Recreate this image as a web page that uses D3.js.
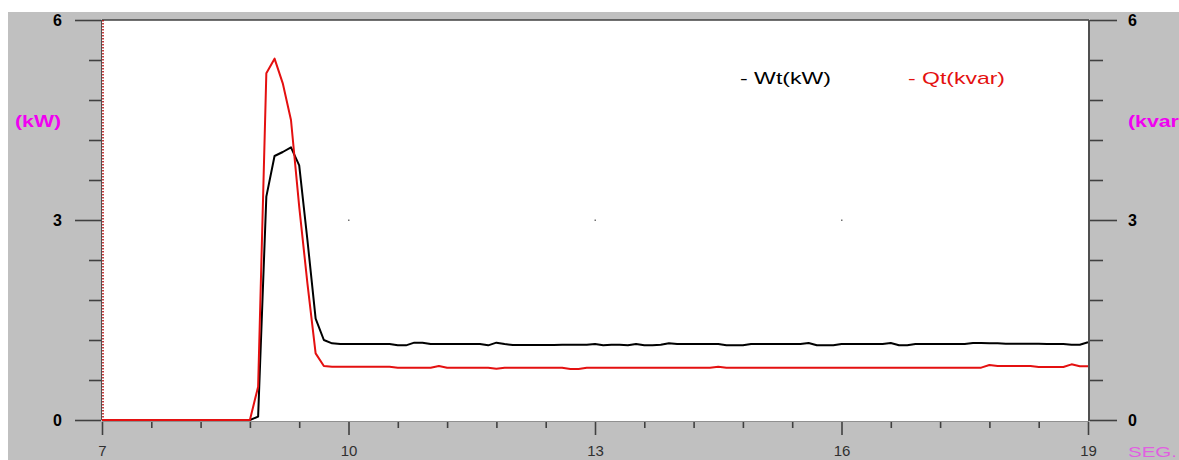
<!DOCTYPE html>
<html>
<head>
<meta charset="utf-8">
<script src="https://cdn.jsdelivr.net/npm/d3@7"></script>
<style>
  html, body { margin: 0; padding: 0; background: #ffffff; }
  svg { display: block; }
</style>
</head>
<body>
<svg id="chart" width="1179" height="460"></svg>
<script>
// ---- data ----
const tStart = 7;
const tStep = 0.1;
const wt = [
  0,0,0,0,0,0,0,0,0,0,
  0,0,0,0,0,0,0,0,0,0.05,
  3.35,3.96,4.02,4.09,3.82,2.70,1.52,1.20,1.15,1.14,
  1.14,1.14,1.14,1.14,1.14,1.14,1.12,1.12,1.16,1.16,
  1.14,1.14,1.14,1.14,1.14,1.14,1.14,1.12,1.16,1.14,
  1.125,1.125,1.125,1.125,1.125,1.125,1.13,1.13,1.13,1.13,
  1.14,1.12,1.13,1.13,1.12,1.14,1.12,1.12,1.13,1.15,
  1.14,1.14,1.14,1.14,1.14,1.14,1.12,1.12,1.12,1.14,
  1.14,1.14,1.14,1.14,1.14,1.14,1.155,1.12,1.12,1.12,
  1.14,1.14,1.14,1.14,1.14,1.14,1.155,1.12,1.12,1.14,
  1.14,1.14,1.14,1.14,1.14,1.14,1.155,1.155,1.15,1.15,
  1.145,1.145,1.145,1.145,1.145,1.14,1.14,1.14,1.13,1.13,
  1.165
];
const qt = [
  0,0,0,0,0,0,0,0,0,0,
  0,0,0,0,0,0,0,0,0,0.5,
  5.2,5.42,5.05,4.5,3.2,2.05,1.0,0.81,0.80,0.80,
  0.80,0.80,0.80,0.80,0.80,0.80,0.785,0.785,0.785,0.785,
  0.785,0.81,0.785,0.785,0.785,0.785,0.785,0.785,0.77,0.785,
  0.785,0.785,0.785,0.785,0.785,0.785,0.785,0.765,0.765,0.785,
  0.785,0.785,0.785,0.785,0.785,0.785,0.785,0.785,0.785,0.785,
  0.785,0.785,0.785,0.785,0.785,0.80,0.785,0.785,0.785,0.785,
  0.785,0.785,0.785,0.785,0.785,0.785,0.785,0.785,0.785,0.785,
  0.785,0.785,0.785,0.785,0.785,0.785,0.785,0.785,0.785,0.785,
  0.785,0.785,0.785,0.785,0.785,0.785,0.785,0.785,0.825,0.81,
  0.81,0.81,0.81,0.81,0.795,0.795,0.795,0.795,0.835,0.805,
  0.805
];
const xMajorTicks = [7, 10, 13, 16, 19];
const xMinorStep = 0.6;
const yMajorTicks = [0, 3, 6];
const yMinorStep = 0.6;
const seriesNames = ["Wt(kW)", "Qt(kvar)"];
const leftUnit = "(kW)";
const rightUnit = "(kvar)";
const xUnit = "SEG.";

// ---- layout ----
const W = 1179, H = 460;
const plot = { left: 102, right: 1088, top: 20, bottom: 420 };
const svg = d3.select("#chart");
const FONT = "'Liberation Sans', Arial, sans-serif";

const x = d3.scaleLinear().domain([7, 19]).range([plot.left, plot.right]);
const y = d3.scaleLinear().domain([0, 6]).range([plot.bottom, plot.top]);

// gray panel background
svg.append("rect").attr("x", 8).attr("y", 12).attr("width", W - 8).attr("height", H - 12).attr("fill", "#c0c0c0");
// white plot area
svg.append("rect").attr("x", plot.left).attr("y", plot.top)
  .attr("width", plot.right - plot.left).attr("height", plot.bottom - plot.top + 1).attr("fill", "#ffffff");

const xMinor = d3.range(7, 19.0001, xMinorStep).filter(v => !xMajorTicks.some(m => Math.abs(m - v) < 1e-6));
const yMinor = d3.range(0, 6.0001, yMinorStep).filter(v => !yMajorTicks.some(m => Math.abs(m - v) < 1e-6));

function styleAxis(g, opts) {
  g.select(".domain").remove();
  g.selectAll(".tick line").attr("stroke", "#404040").attr("stroke-width", 1.6);
  g.selectAll(".tick text").attr("font-family", FONT).attr("font-size", opts.size)
    .attr("font-weight", opts.weight).attr("fill", opts.color);
}

// left axis
svg.append("g").attr("transform", `translate(${plot.left - 1},0)`)
  .call(d3.axisLeft(y).tickValues(yMajorTicks).tickSize(26).tickPadding(13).tickFormat(d3.format("d")))
  .call(g => styleAxis(g, { size: 16, weight: "bold", color: "#000" }));
svg.append("g").attr("transform", `translate(${plot.left - 1},0)`)
  .call(d3.axisLeft(y).tickValues(yMinor).tickSize(12).tickFormat(""))
  .call(g => styleAxis(g, { size: 16, weight: "bold", color: "#000" }));

// right axis
svg.append("g").attr("transform", `translate(${plot.right + 2},0)`)
  .call(d3.axisRight(y).tickValues(yMajorTicks).tickSize(27).tickPadding(11).tickFormat(d3.format("d")))
  .call(g => styleAxis(g, { size: 16, weight: "bold", color: "#000" }));
svg.append("g").attr("transform", `translate(${plot.right + 2},0)`)
  .call(d3.axisRight(y).tickValues(yMinor).tickSize(13).tickFormat(""))
  .call(g => styleAxis(g, { size: 16, weight: "bold", color: "#000" }));

// bottom axis
svg.append("g").attr("transform", `translate(0,${plot.bottom + 2})`)
  .call(d3.axisBottom(x).tickValues(xMajorTicks).tickSize(13).tickPadding(10).tickFormat(d3.format("d")))
  .call(g => styleAxis(g, { size: 15, weight: "normal", color: "#303030" }));
svg.append("g").attr("transform", `translate(0,${plot.bottom + 2})`)
  .call(d3.axisBottom(x).tickValues(xMinor).tickSize(6).tickFormat(""))
  .call(g => styleAxis(g, { size: 15, weight: "normal", color: "#303030" }));

// frame
svg.append("line").attr("x1", plot.left).attr("x2", plot.right + 1).attr("y1", plot.top).attr("y2", plot.top)
  .attr("stroke", "#404040").attr("stroke-width", 1.6);
svg.append("line").attr("x1", plot.right + 1).attr("x2", plot.right + 1).attr("y1", plot.top).attr("y2", plot.bottom + 1)
  .attr("stroke", "#505050").attr("stroke-width", 2);
svg.append("line").attr("x1", plot.left - 0.5).attr("x2", plot.left - 0.5).attr("y1", plot.top).attr("y2", plot.bottom)
  .attr("stroke", "#505050").attr("stroke-width", 1);
svg.append("line").attr("x1", plot.left + 1).attr("x2", plot.left + 1).attr("y1", plot.top).attr("y2", plot.bottom)
  .attr("stroke", "#b00000").attr("stroke-width", 1.5).attr("stroke-dasharray", "1.5,1.5");
svg.append("line").attr("x1", plot.left).attr("x2", plot.right + 1).attr("y1", plot.bottom + 1.5).attr("y2", plot.bottom + 1.5)
  .attr("stroke", "#909090").attr("stroke-width", 1);

// grid dots at interior major intersections
const gridPts = [];
xMajorTicks.slice(1, -1).forEach(tx => yMajorTicks.slice(1, -1).forEach(ty => gridPts.push([tx, ty])));
svg.append("g").selectAll("rect").data(gridPts).join("rect")
  .attr("x", d => x(d[0]) - 0.5).attr("y", d => y(d[1]) - 0.5)
  .attr("width", 1.5).attr("height", 1.5).attr("fill", "#707070");

// series
const line = d3.line().x((d, i) => x(tStart + i * tStep)).y(d => y(d));
svg.append("path").datum(wt).attr("d", line).attr("fill", "none")
  .attr("stroke", "#000000").attr("stroke-width", 2).attr("stroke-linejoin", "round");
svg.append("path").datum(qt).attr("d", line).attr("fill", "none")
  .attr("stroke", "#e41010").attr("stroke-width", 2).attr("stroke-linejoin", "round");

// legend
const legend = [
  { text: "- " + seriesNames[0], color: "#000000", x: 740, len: 91 },
  { text: "- " + seriesNames[1], color: "#e41010", x: 908, len: 97 }
];
svg.append("g").selectAll("text").data(legend).join("text")
  .attr("x", d => d.x).attr("y", 84)
  .attr("textLength", d => d.len).attr("lengthAdjust", "spacingAndGlyphs")
  .attr("font-family", FONT).attr("font-size", 17).attr("fill", d => d.color)
  .text(d => d.text);

// unit labels
svg.append("text").attr("x", 15).attr("y", 127).attr("textLength", 46).attr("lengthAdjust", "spacingAndGlyphs")
  .attr("font-family", FONT).attr("font-size", 16).attr("font-weight", "bold").attr("fill", "#f000f0").text(leftUnit);
svg.append("text").attr("x", 1128).attr("y", 127).attr("textLength", 58).attr("lengthAdjust", "spacingAndGlyphs")
  .attr("font-family", FONT).attr("font-size", 16).attr("font-weight", "bold").attr("fill", "#f000f0").text(rightUnit);
svg.append("text").attr("x", 1128).attr("y", 457).attr("textLength", 49).attr("lengthAdjust", "spacingAndGlyphs")
  .attr("font-family", FONT).attr("font-size", 15).attr("fill", "#e060e0").text(xUnit);
</script>
</body>
</html>
